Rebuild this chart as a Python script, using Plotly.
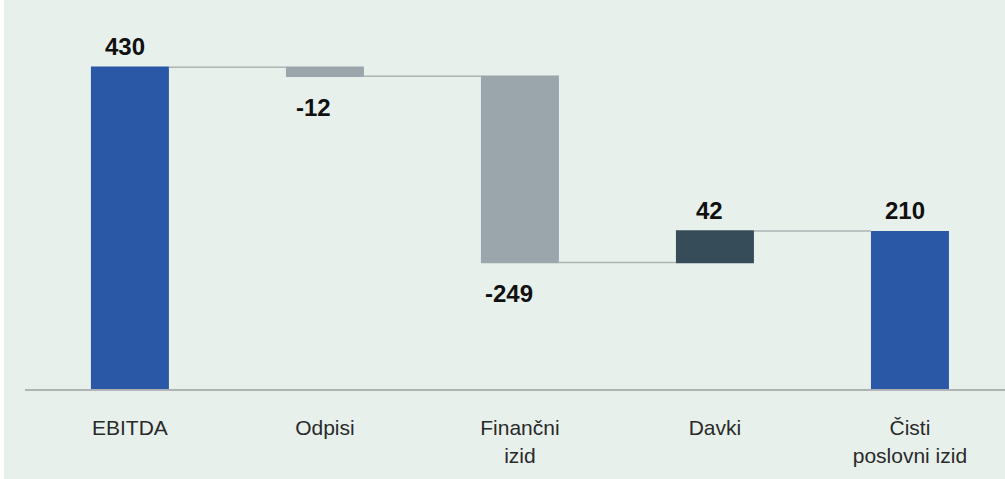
import plotly.graph_objects as go

categories = ["EBITDA", "Odpisi", "Finančni<br>izid", "Davki", "Čisti<br>poslovni izid"]
values = [430, -12, -249, 42, 210]
measures = ["absolute", "relative", "relative", "relative", "absolute"]
labels = ["430", "-12", "-249", "42", "210"]

BG = "#e7f0eb"
BLUE = "#2a58a6"
GRAY = "#9ba6ac"
DARK = "#364c58"

fig = go.Figure(go.Waterfall(
    x=categories, y=values, measure=measures,
    width=0.4,
    totals=dict(marker=dict(color=BLUE)),
    increasing=dict(marker=dict(color=DARK)),
    decreasing=dict(marker=dict(color=GRAY)),
    connector=dict(mode="between", line=dict(color="#aeb3b5", width=1.5)),
    textinfo="none",
    hoverinfo="skip",
))

# label annotations at bar ends
run = 0
for cat, v, m, lab in zip(categories, values, measures, labels):
    if m == "absolute":
        start, end = 0, v
    else:
        start, end = run, run + v
    run = end
    if v >= 0:
        fig.add_annotation(x=cat, y=end, text=lab, showarrow=False,
                           yanchor="middle", yshift=21, xshift=-5)
    else:
        fig.add_annotation(x=cat, y=end, text=lab, showarrow=False,
                           yanchor="middle", yshift=-31, xshift=-11)

fig.update_annotations(font=dict(family="Liberation Sans", size=24, color="#111111", weight="bold"))

fig.update_layout(
    width=1005, height=479,
    paper_bgcolor=BG, plot_bgcolor=BG,
    margin=dict(l=21, r=0, t=20, b=90),
    showlegend=False,
    font=dict(family="Liberation Sans", size=20, color="#222222"),
    xaxis=dict(range=[-0.538, 4.508], showgrid=False, showline=True,
               linecolor="#b0b3b3", linewidth=2, ticks="", ticklabelstandoff=19,
               tickfont=dict(size=21, color="#2a2a2a"), zeroline=False),
    yaxis=dict(range=[0, 493], visible=False, showgrid=False, zeroline=False),
)

fig.write_html(
    "out.html",
    post_script="document.body.style.margin='0 0 0 4px';document.body.style.background='#ffffff';document.body.style.overflow='hidden';",
)
